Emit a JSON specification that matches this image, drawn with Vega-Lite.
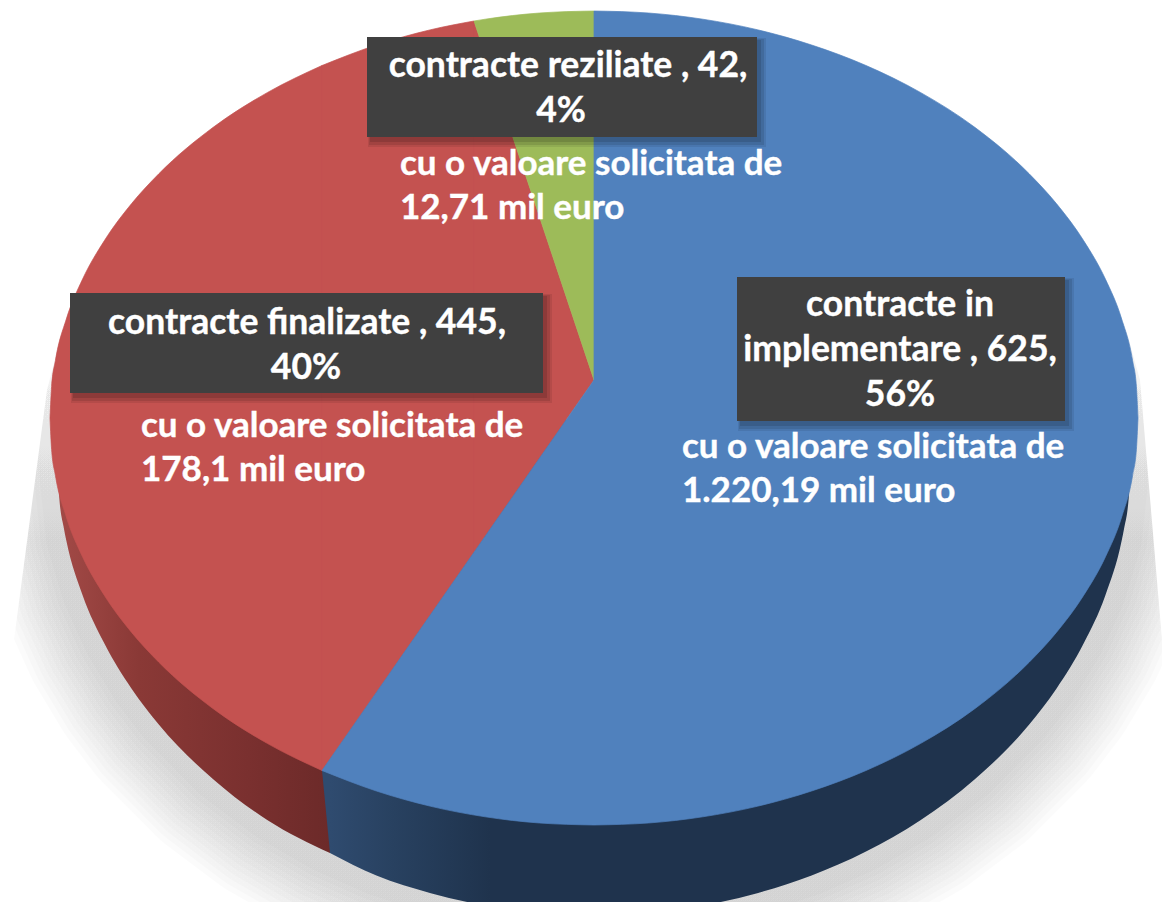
{
"$schema":"https://vega.github.io/schema/vega-lite/v6.json",
"width":1162,"height":902,"padding":0,"autosize":{"type":"none"},
"background":"white","view":{"stroke":null},
"datasets":{
"faces":[
{"status":"contracte finalizate","piece":"a","x":50,"y":418,"y2":418},{"status":"contracte finalizate","piece":"a","x":51.6,"y":386.5,"y2":449.5},{"status":"contracte finalizate","piece":"a","x":55.4,"y":360.6,"y2":475.4},{"status":"contracte finalizate","piece":"a","x":66.3,"y":319.1,"y2":516.9},{"status":"contracte finalizate","piece":"a","x":82.6,"y":279.1,"y2":556.9},{"status":"contracte finalizate","piece":"a","x":104.4,"y":240.6,"y2":595.4},{"status":"contracte finalizate","piece":"a","x":131.6,"y":203.6,"y2":632.4},{"status":"contracte finalizate","piece":"a","x":158.8,"y":173.8,"y2":662.2},{"status":"contracte finalizate","piece":"a","x":213.2,"y":127.3,"y2":708.7},{"status":"contracte finalizate","piece":"a","x":267.6,"y":92.4,"y2":743.6},{"status":"contracte finalizate","piece":"a","x":322,"y":65.5,"y2":770.5},
{"status":"contracte finalizate","piece":"b","x":322,"y":65.5,"y2":770.5},{"status":"contracte finalizate","piece":"b","x":376.4,"y":45,"y2":692.4},{"status":"contracte finalizate","piece":"b","x":430.8,"y":29.7,"y2":614.3},{"status":"contracte finalizate","piece":"b","x":474,"y":21,"y2":552.3},
{"status":"contracte finalizate","piece":"c","x":474,"y":21,"y2":552.3},{"status":"contracte finalizate","piece":"c","x":485.2,"y":54.5,"y2":536.2},{"status":"contracte finalizate","piece":"c","x":539.6,"y":217.1,"y2":458.1},{"status":"contracte finalizate","piece":"c","x":594,"y":380,"y2":380},
{"status":"contracte reziliate","piece":"a","x":474,"y":21,"y2":21},{"status":"contracte reziliate","piece":"a","x":485.2,"y":19.2,"y2":54.5},{"status":"contracte reziliate","piece":"a","x":539.6,"y":13,"y2":217.1},{"status":"contracte reziliate","piece":"a","x":594,"y":11,"y2":380},
{"status":"contracte in implementare","piece":"a","x":322,"y":770.5,"y2":770.5},{"status":"contracte in implementare","piece":"a","x":376.4,"y":692.4,"y2":791},{"status":"contracte in implementare","piece":"a","x":430.8,"y":614.3,"y2":806.3},{"status":"contracte in implementare","piece":"a","x":485.2,"y":536.2,"y2":816.8},{"status":"contracte in implementare","piece":"a","x":539.6,"y":458.1,"y2":823},{"status":"contracte in implementare","piece":"a","x":594,"y":380,"y2":825},
{"status":"contracte in implementare","piece":"b","x":594,"y":11,"y2":825},{"status":"contracte in implementare","piece":"b","x":648.4,"y":13,"y2":823},{"status":"contracte in implementare","piece":"b","x":702.8,"y":19.2,"y2":816.8},{"status":"contracte in implementare","piece":"b","x":757.2,"y":29.7,"y2":806.3},{"status":"contracte in implementare","piece":"b","x":811.6,"y":45,"y2":791},{"status":"contracte in implementare","piece":"b","x":866,"y":65.5,"y2":770.5},{"status":"contracte in implementare","piece":"b","x":920.4,"y":92.4,"y2":743.6},{"status":"contracte in implementare","piece":"b","x":974.8,"y":127.3,"y2":708.7},{"status":"contracte in implementare","piece":"b","x":1029.2,"y":173.8,"y2":662.2},{"status":"contracte in implementare","piece":"b","x":1056.4,"y":203.6,"y2":632.4},{"status":"contracte in implementare","piece":"b","x":1083.6,"y":240.6,"y2":595.4},{"status":"contracte in implementare","piece":"b","x":1105.4,"y":279.1,"y2":556.9},{"status":"contracte in implementare","piece":"b","x":1121.7,"y":319.1,"y2":516.9},{"status":"contracte in implementare","piece":"b","x":1132.6,"y":360.6,"y2":475.4},{"status":"contracte in implementare","piece":"b","x":1136.4,"y":386.5,"y2":449.5},{"status":"contracte in implementare","piece":"b","x":1138,"y":418,"y2":418}
],
"sideRed":[
{"x":57,"y":420,"y2":455},{"x":59,"y":420,"y2":494},{"x":64,"y":420,"y2":529},{"x":66.3,"y":420,"y2":540.6},{"x":82.6,"y":420,"y2":595.3},{"x":104.4,"y":420,"y2":643.6},{"x":131.6,"y":420,"y2":688.8},{"x":158.8,"y":420,"y2":724.6},{"x":213.2,"y":420,"y2":779.3},{"x":267.6,"y":420,"y2":820.2},{"x":330,"y":420,"y2":853}
],
"sideBlueEdge":[
{"x":322,"y":420,"y2":770.5},{"x":330,"y":420,"y2":853}
],
"sideBlue":[
{"x":330,"y":420,"y2":853},{"x":376.4,"y":420,"y2":875.6},{"x":430.8,"y":420,"y2":893.2},{"x":485.2,"y":420,"y2":905.5},{"x":539.6,"y":420,"y2":912.6},{"x":594,"y":420,"y2":915},{"x":648.4,"y":420,"y2":912.6},{"x":702.8,"y":420,"y2":905.5},{"x":757.2,"y":420,"y2":893.2},{"x":811.6,"y":420,"y2":875.6},{"x":866,"y":420,"y2":851.6},{"x":920.4,"y":420,"y2":820.2},{"x":974.8,"y":420,"y2":779.3},{"x":1029.2,"y":420,"y2":724.6},{"x":1056.4,"y":420,"y2":688.8},{"x":1083.6,"y":420,"y2":643.6},{"x":1105.4,"y":420,"y2":595.3},{"x":1121.7,"y":420,"y2":540.6},{"x":1124,"y":420,"y2":529},{"x":1129,"y":420,"y2":494},{"x":1131,"y":420,"y2":455}
],
"shadow":[
{"i":0,"x":76,"y":290},{"i":1,"x":56,"y":360},{"i":2,"x":52,"y":420},{"i":3,"x":57,"y":455},{"i":4,"x":66.3,"y":540.6},{"i":5,"x":82.6,"y":595.3},{"i":6,"x":104.4,"y":643.6},{"i":7,"x":131.6,"y":688.8},{"i":8,"x":158.8,"y":724.6},{"i":9,"x":213.2,"y":779.3},{"i":10,"x":267.6,"y":820.2},{"i":11,"x":322,"y":851.6},{"i":12,"x":376.4,"y":875.6},{"i":13,"x":430.8,"y":893.2},{"i":14,"x":485.2,"y":905.5},{"i":15,"x":539.6,"y":912.6},{"i":16,"x":594,"y":915},{"i":17,"x":648.4,"y":912.6},{"i":18,"x":702.8,"y":905.5},{"i":19,"x":757.2,"y":893.2},{"i":20,"x":811.6,"y":875.6},{"i":21,"x":866,"y":851.6},{"i":22,"x":920.4,"y":820.2},{"i":23,"x":974.8,"y":779.3},{"i":24,"x":1029.2,"y":724.6},{"i":25,"x":1056.4,"y":688.8},{"i":26,"x":1083.6,"y":643.6},{"i":27,"x":1105.4,"y":595.3},{"i":28,"x":1121.7,"y":540.6},{"i":29,"x":1131,"y":455},{"i":30,"x":1136,"y":420},{"i":31,"x":1132,"y":360},{"i":32,"x":1112,"y":290}
],
"mask":[
{"piece":"left","x":0,"y":0,"y2":746},{"piece":"left","x":47,"y":0,"y2":390},{"piece":"left","x":76,"y":0,"y2":280},
{"piece":"right","x":1112,"y":0,"y2":280},{"piece":"right","x":1140,"y":0,"y2":380},{"piece":"right","x":1162,"y":0,"y2":640}
],
"boxes":[
{"status":"contracte reziliate","x":367,"x2":757,"y":37,"y2":137},
{"status":"contracte finalizate","x":70,"x2":543,"y":293,"y2":393},
{"status":"contracte in implementare","x":737,"x2":1065,"y":277,"y2":421}
],
"centered":[
{"x":568,"y":77,"line":"contracte reziliate , 42,"},{"x":561,"y":122,"line":"4%"},
{"x":307,"y":334,"line":"contracte finalizate , 445,"},{"x":306,"y":379,"line":"40%"},
{"x":900,"y":316,"line":"contracte in"},{"x":900,"y":361,"line":"implementare , 625,"},{"x":900,"y":406,"line":"56%"}
],
"notes":[
{"x":400,"y":175,"line":"cu o valoare solicitata de"},{"x":400,"y":219,"line":"12,71 mil euro"},
{"x":141,"y":437,"line":"cu o valoare solicitata de"},{"x":141,"y":481,"line":"178,1 mil euro"},
{"x":682,"y":458,"line":"cu o valoare solicitata de"},{"x":682,"y":502,"line":"1.220,19 mil euro"}
]
},
"encoding":{
"x":{"field":"x","type":"quantitative","axis":null,"scale":{"domain":[0,1162],"nice":false,"zero":false}},
"y":{"field":"y","type":"quantitative","axis":null,"scale":{"domain":[902,0],"nice":false,"zero":false}}
},
"layer":[
{"data":{"name":"shadow"},"mark":{"type":"line","clip":true,"stroke":{"gradient":"linear","x1":0,"x2":0,"y1":0,"y2":1,"stops":[{"offset":0,"color":"rgba(0,0,0,0)"},{"offset":0.4,"color":"rgba(0,0,0,1)"},{"offset":1,"color":"rgba(0,0,0,1)"}]},"strokeOpacity":0.017,"strokeWidth":161,"strokeJoin":"round"},"encoding":{"order":{"field":"i","type":"quantitative"}}},
{"data":{"name":"shadow"},"mark":{"type":"line","clip":true,"stroke":{"gradient":"linear","x1":0,"x2":0,"y1":0,"y2":1,"stops":[{"offset":0,"color":"rgba(0,0,0,0)"},{"offset":0.4,"color":"rgba(0,0,0,1)"},{"offset":1,"color":"rgba(0,0,0,1)"}]},"strokeOpacity":0.017,"strokeWidth":150,"strokeJoin":"round"},"encoding":{"order":{"field":"i","type":"quantitative"}}},
{"data":{"name":"shadow"},"mark":{"type":"line","clip":true,"stroke":{"gradient":"linear","x1":0,"x2":0,"y1":0,"y2":1,"stops":[{"offset":0,"color":"rgba(0,0,0,0)"},{"offset":0.4,"color":"rgba(0,0,0,1)"},{"offset":1,"color":"rgba(0,0,0,1)"}]},"strokeOpacity":0.017,"strokeWidth":139,"strokeJoin":"round"},"encoding":{"order":{"field":"i","type":"quantitative"}}},
{"data":{"name":"shadow"},"mark":{"type":"line","clip":true,"stroke":{"gradient":"linear","x1":0,"x2":0,"y1":0,"y2":1,"stops":[{"offset":0,"color":"rgba(0,0,0,0)"},{"offset":0.4,"color":"rgba(0,0,0,1)"},{"offset":1,"color":"rgba(0,0,0,1)"}]},"strokeOpacity":0.017,"strokeWidth":128,"strokeJoin":"round"},"encoding":{"order":{"field":"i","type":"quantitative"}}},
{"data":{"name":"shadow"},"mark":{"type":"line","clip":true,"stroke":{"gradient":"linear","x1":0,"x2":0,"y1":0,"y2":1,"stops":[{"offset":0,"color":"rgba(0,0,0,0)"},{"offset":0.4,"color":"rgba(0,0,0,1)"},{"offset":1,"color":"rgba(0,0,0,1)"}]},"strokeOpacity":0.017,"strokeWidth":117,"strokeJoin":"round"},"encoding":{"order":{"field":"i","type":"quantitative"}}},
{"data":{"name":"shadow"},"mark":{"type":"line","clip":true,"stroke":{"gradient":"linear","x1":0,"x2":0,"y1":0,"y2":1,"stops":[{"offset":0,"color":"rgba(0,0,0,0)"},{"offset":0.4,"color":"rgba(0,0,0,1)"},{"offset":1,"color":"rgba(0,0,0,1)"}]},"strokeOpacity":0.017,"strokeWidth":106,"strokeJoin":"round"},"encoding":{"order":{"field":"i","type":"quantitative"}}},
{"data":{"name":"shadow"},"mark":{"type":"line","clip":true,"stroke":{"gradient":"linear","x1":0,"x2":0,"y1":0,"y2":1,"stops":[{"offset":0,"color":"rgba(0,0,0,0)"},{"offset":0.4,"color":"rgba(0,0,0,1)"},{"offset":1,"color":"rgba(0,0,0,1)"}]},"strokeOpacity":0.017,"strokeWidth":95,"strokeJoin":"round"},"encoding":{"order":{"field":"i","type":"quantitative"}}},
{"data":{"name":"shadow"},"mark":{"type":"line","clip":true,"stroke":{"gradient":"linear","x1":0,"x2":0,"y1":0,"y2":1,"stops":[{"offset":0,"color":"rgba(0,0,0,0)"},{"offset":0.4,"color":"rgba(0,0,0,1)"},{"offset":1,"color":"rgba(0,0,0,1)"}]},"strokeOpacity":0.017,"strokeWidth":84,"strokeJoin":"round"},"encoding":{"order":{"field":"i","type":"quantitative"}}},
{"data":{"name":"shadow"},"mark":{"type":"line","clip":true,"stroke":{"gradient":"linear","x1":0,"x2":0,"y1":0,"y2":1,"stops":[{"offset":0,"color":"rgba(0,0,0,0)"},{"offset":0.4,"color":"rgba(0,0,0,1)"},{"offset":1,"color":"rgba(0,0,0,1)"}]},"strokeOpacity":0.017,"strokeWidth":73,"strokeJoin":"round"},"encoding":{"order":{"field":"i","type":"quantitative"}}},
{"data":{"name":"shadow"},"mark":{"type":"line","clip":true,"stroke":{"gradient":"linear","x1":0,"x2":0,"y1":0,"y2":1,"stops":[{"offset":0,"color":"rgba(0,0,0,0)"},{"offset":0.4,"color":"rgba(0,0,0,1)"},{"offset":1,"color":"rgba(0,0,0,1)"}]},"strokeOpacity":0.017,"strokeWidth":62,"strokeJoin":"round"},"encoding":{"order":{"field":"i","type":"quantitative"}}},
{"data":{"name":"shadow"},"mark":{"type":"line","clip":true,"stroke":{"gradient":"linear","x1":0,"x2":0,"y1":0,"y2":1,"stops":[{"offset":0,"color":"rgba(0,0,0,0)"},{"offset":0.4,"color":"rgba(0,0,0,1)"},{"offset":1,"color":"rgba(0,0,0,1)"}]},"strokeOpacity":0.017,"strokeWidth":51,"strokeJoin":"round"},"encoding":{"order":{"field":"i","type":"quantitative"}}},
{"data":{"name":"shadow"},"mark":{"type":"line","clip":true,"stroke":{"gradient":"linear","x1":0,"x2":0,"y1":0,"y2":1,"stops":[{"offset":0,"color":"rgba(0,0,0,0)"},{"offset":0.4,"color":"rgba(0,0,0,1)"},{"offset":1,"color":"rgba(0,0,0,1)"}]},"strokeOpacity":0.017,"strokeWidth":40,"strokeJoin":"round"},"encoding":{"order":{"field":"i","type":"quantitative"}}},
{"data":{"name":"mask"},"mark":{"type":"area","color":"white","interpolate":"linear"},"encoding":{"y2":{"field":"y2"},"detail":{"field":"piece"}}},
{"data":{"name":"sideRed"},"mark":{"type":"area","clip":true,"interpolate":"monotone","color":{"gradient":"linear","x1":0,"x2":1,"y1":0,"y2":0,"stops":[{"offset":0,"color":"#a34a47"},{"offset":0.3,"color":"#8a3936"},{"offset":0.7,"color":"#7a302f"},{"offset":1,"color":"#6c2a29"}]}},"encoding":{"y2":{"field":"y2"}}},
{"data":{"name":"sideBlueEdge"},"mark":{"type":"area","clip":true,"interpolate":"linear","color":"#2f4b6f"},"encoding":{"y2":{"field":"y2"}}},
{"data":{"name":"sideBlue"},"mark":{"type":"area","clip":true,"interpolate":"monotone","color":{"gradient":"linear","x1":0,"x2":1,"y1":0,"y2":0,"stops":[{"offset":0,"color":"#2f4b6f"},{"offset":0.08,"color":"#284160"},{"offset":0.2,"color":"#1f334d"},{"offset":1,"color":"#1f334d"}]}},"encoding":{"y2":{"field":"y2"}}},
{"data":{"name":"faces"},"mark":{"type":"area","interpolate":"monotone","strokeWidth":0.7},"encoding":{"y2":{"field":"y2"},"detail":{"field":"piece"},
"color":{"field":"status","type":"nominal","legend":null,"scale":{"domain":["contracte in implementare","contracte finalizate","contracte reziliate"],"range":["#5081bd","#c45250","#9dbb59"]}},
"stroke":{"field":"status","type":"nominal","legend":null,"scale":{"domain":["contracte in implementare","contracte finalizate","contracte reziliate"],"range":["#5081bd","#c45250","#9dbb59"]}}}},
{"data":{"name":"boxes"},"mark":{"type":"rect","color":"#000","opacity":0.08,"xOffset":1,"x2Offset":9,"yOffset":1,"y2Offset":10},"encoding":{"x2":{"field":"x2"},"y2":{"field":"y2"}}},
{"data":{"name":"boxes"},"mark":{"type":"rect","color":"#000","opacity":0.1,"xOffset":2,"x2Offset":7,"yOffset":2,"y2Offset":8},"encoding":{"x2":{"field":"x2"},"y2":{"field":"y2"}}},
{"data":{"name":"boxes"},"mark":{"type":"rect","color":"#000","opacity":0.12,"xOffset":3,"x2Offset":4,"yOffset":3,"y2Offset":5},"encoding":{"x2":{"field":"x2"},"y2":{"field":"y2"}}},
{"data":{"name":"boxes"},"mark":{"type":"rect","color":"#404040"},"encoding":{"x2":{"field":"x2"},"y2":{"field":"y2"}}},
{"data":{"name":"centered"},"mark":{"type":"text","align":"center","baseline":"alphabetic","font":"Lato","fontWeight":"bold","fontSize":35.5,"color":"white","stroke":"white","strokeWidth":0.4},"encoding":{"text":{"field":"line"}}},
{"data":{"name":"notes"},"mark":{"type":"text","align":"left","baseline":"alphabetic","font":"Lato","fontWeight":"bold","fontSize":35,"color":"white","stroke":"white","strokeWidth":0.4},"encoding":{"text":{"field":"line"}}}
]
}
